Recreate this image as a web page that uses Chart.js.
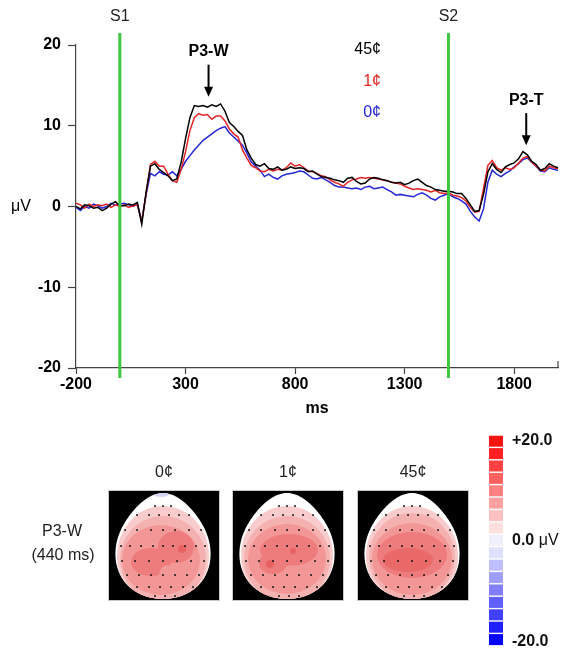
<!DOCTYPE html>
<html><head><meta charset="utf-8">
<script src="https://cdn.jsdelivr.net/npm/chart.js@4/dist/chart.umd.min.js"></script>
<style>html,body{margin:0;padding:0;background:#fff}#wrap{width:567px;height:652px;position:relative}</style>
</head><body><div id="wrap"><canvas id="c" width="567" height="652"></canvas></div>
<script>
// ---- data ----
const times = [
 -200,-180,-160,-140,-120,-100,-80,-60,-40,-20,
 0,20,40,60,80,100,120,140,160,180,
 200,220,240,260,280,300,320,340,360,380,
 400,420,440,460,480,500,520,540,560,580,
 600,620,640,660,680,700,720,740,760,780,
 800,820,840,860,880,900,920,940,960,980,
 1000,1020,1040,1060,1080,1100,1120,1140,1160,1180,
 1200,1220,1240,1260,1280,1300,1320,1340,1360,1380,
 1400,1420,1440,1460,1480,1500,1520,1540,1560,1580,
 1600,1620,1640,1660,1680,1700,1720,1740,1760,1780,
 1800,1820,1840,1860,1880,1900,1920,1940,1960,1980,2000];
const cents45 = [
 0.0,-0.3,0.2,0.1,-0.2,-0.1,-0.5,-0.2,0.3,0.6,
 0.1,0.1,0.3,0.2,0.5,-2.2,1.8,5.0,5.3,4.6,
 4.2,3.8,3.2,3.4,5.5,8.4,11.0,12.5,12.4,12.5,
 12.3,12.6,12.4,12.7,11.8,10.4,9.9,9.3,8.8,7.0,
 6.0,5.2,5.0,5.3,4.7,4.6,4.9,4.5,4.6,4.9,
 4.7,4.8,4.7,4.3,4.4,4.0,3.7,3.6,3.5,3.3,
 3.2,3.0,3.5,3.6,3.1,2.8,2.9,3.4,3.6,3.5,
 3.3,3.2,3.0,2.9,3.0,2.7,2.9,3.2,3.4,3.0,
 2.6,2.4,2.1,2.0,1.9,1.9,1.8,1.6,1.6,1.0,
 0.2,-0.6,-0.5,1.5,4.3,5.3,4.6,4.2,4.9,5.2,
 5.4,5.9,6.8,6.4,5.6,5.2,4.5,4.7,5.3,5.0,4.8];
const cents1 = [
 0.4,0.2,-0.2,0.3,0.0,0.2,0.1,0.3,-0.1,0.2,
 0.0,0.2,-0.1,0.1,0.2,-1.9,1.6,5.2,5.6,5.0,
 5.0,4.0,3.2,3.0,4.6,6.8,9.4,11.0,11.5,11.3,
 11.4,10.8,11.2,11.2,10.6,9.6,9.0,8.6,7.0,6.0,
 5.1,4.8,4.4,4.3,4.6,4.4,4.6,4.5,4.8,5.4,
 5.0,5.2,4.8,4.4,4.3,4.1,3.8,3.7,3.3,3.0,
 2.8,2.5,3.0,3.3,3.4,3.6,3.5,3.6,3.5,3.4,
 3.3,3.2,3.0,2.9,2.8,2.5,2.3,2.1,2.2,2.1,
 2.0,1.8,2.0,1.7,1.6,1.7,1.4,1.3,1.1,0.7,
 -0.1,-0.7,-0.6,2.2,5.1,5.7,4.8,4.5,4.8,4.6,
 4.8,5.4,6.0,6.2,5.5,5.0,4.5,4.4,5.0,4.8,4.7];
const cents0 = [
 -0.1,-0.5,0.0,-0.2,0.3,0.1,-0.2,0.0,0.4,0.2,
 0.3,0.4,0.2,0.0,0.3,-1.8,1.5,4.1,3.8,4.3,
 4.0,3.9,4.3,3.8,4.6,5.6,6.3,7.0,7.6,8.2,
 8.6,9.0,9.4,9.7,9.9,9.1,8.6,8.1,7.6,6.6,
 5.5,5.0,4.5,3.7,4.0,3.6,3.4,3.8,4.0,4.1,
 4.2,4.4,4.3,3.9,3.5,3.4,3.6,3.3,3.0,2.6,
 2.4,2.4,2.3,2.2,2.3,2.1,2.4,2.5,2.2,2.3,
 2.4,2.1,1.8,1.4,1.5,1.4,1.3,1.2,1.5,1.7,
 1.4,1.0,0.8,1.2,1.4,1.6,1.2,1.0,0.7,0.3,
 -0.6,-1.3,-1.8,-0.3,3.0,4.5,4.0,3.7,4.1,4.4,
 4.9,5.3,5.8,6.0,5.5,5.0,4.4,4.3,4.8,4.6,4.5];
const seriesNames = ['45¢','1¢','0¢'];
const seriesColors = ['#000000','#e42424','#2626d6'];
const xTicks = [-200,300,800,1300,1800];
const yTicks = [-20,-10,0,10,20];
const stimuli = [{label:'S1', t:0},{label:'S2', t:1500}];
const peaks = [{label:'P3-W', t:405, v:13.6},{label:'P3-T', t:1855, v:7.6}];
const mapTitles = ['0¢','1¢','45¢'];
const colorbarLevels = [20,17.5,15,12.5,10,7.5,5,2.5,0,-2.5,-5,-7.5,-10,-12.5,-15,-17.5,-20];

const FONT = "'Liberation Sans', Arial, Helvetica, sans-serif";
const seriesValues = [cents45, cents1, cents0];

function levelColor(v){
  if (v > 0.01){ const f = v/20; const c = Math.round(255 - 235*Math.min(1,f*1.08)); return `rgb(255,${c},${c})`; }
  if (v < -0.01){ const f = -v/20; const c = Math.round(255 - 255*Math.min(1,f*1.0)); return `rgb(${c},${c},255)`; }
  return 'rgb(240,240,252)';
}

// head map blobs: [dx, dy, rx, ry, colour] relative to head centre
const headLayers = [
  [ // 0¢
    [0,10,46,50,'#f8cccc'],[0,13,43,43,'#f5b0b0'],[-2,14,39,35,'#f29696'],
    [13,1,18,16,'#ee7c7c'],[-12,16,20,14,'#ee7c7c'],[4,29,8,10,'#f29696'],[19,3,4,4,'#e86262']
  ],
  [ // 1¢
    [0,10,46,50,'#f8cccc'],[0,13,43,43,'#f5b0b0'],[0,13,39,35,'#f29696'],
    [2,4,29,16,'#ee7c7c'],[-14,17,14,11,'#ee7c7c'],[4,28,7,9,'#f29696'],[6,5,3,3,'#e86262'],[-17,18,4,4,'#e86262']
  ],
  [ // 45¢
    [0,10,46,50,'#f8cccc'],[0,11,43,44,'#f5b0b0'],[0,13,40,36,'#f29696'],
    [0,9,35,23,'#ee7c7c'],[-4,14,25,12,'#e96868']
  ]
];
const electrodes = [
  [-40,[-8,0,8]],[-31,[-26,-14,-4,6,16,26]],[-16,[-38,-26,-12,0,12,26,38]],
  [0,[-42,-33,-22,-10,0,10,22,33,42]],[15,[-41,-28,-14,0,14,28,41]],
  [29,[-36,-24,-12,0,12,24,36]],[41,[-26,-14,-3,8,20,30]],[50,[-8,2,12]]
];

const overlay = {
  id:'overlay',
  afterDatasetsDraw(chart){
    const {ctx, chartArea:ca, scales:{x,y}} = chart;
    ctx.save();
    stimuli.forEach(s=>{
      const px = x.getPixelForValue(s.t);
      ctx.strokeStyle = '#3fc63f'; ctx.lineWidth = 3;
      ctx.beginPath(); ctx.moveTo(px, ca.top-12); ctx.lineTo(px, ca.bottom+10); ctx.stroke();
      ctx.fillStyle = '#222'; ctx.font = `16px ${FONT}`; ctx.textAlign='center'; ctx.textBaseline='middle';
      ctx.fillText(s.label, px, ca.top-28);
    });
    peaks.forEach(p=>{
      const px = x.getPixelForValue(p.t), tip = y.getPixelForValue(p.v);
      ctx.strokeStyle='#000'; ctx.fillStyle='#000'; ctx.lineWidth=2;
      ctx.beginPath(); ctx.moveTo(px, tip-32); ctx.lineTo(px, tip-8); ctx.stroke();
      ctx.beginPath(); ctx.moveTo(px-4.5, tip-10); ctx.lineTo(px+4.5, tip-10); ctx.lineTo(px, tip); ctx.closePath(); ctx.fill();
      ctx.font = `bold 16px ${FONT}`; ctx.textAlign='center'; ctx.textBaseline='middle';
      ctx.fillText(p.label, px, tip-45);
    });
    ctx.font = `16px ${FONT}`; ctx.textAlign='right'; ctx.textBaseline='middle';
    seriesNames.forEach((n,i)=>{ ctx.fillStyle = seriesColors[i]; ctx.fillText(n, 381, ca.top+5+i*31.5); });
    ctx.fillStyle='#000'; ctx.textAlign='center'; ctx.font = `16px ${FONT}`;
    ctx.fillText('μV', 21, y.getPixelForValue(0));
    ctx.strokeStyle='#444'; ctx.lineWidth=1.2;
    ctx.beginPath(); ctx.moveTo(ca.right, ca.bottom); ctx.lineTo(ca.right, ca.bottom-7); ctx.stroke();
    ctx.restore();
  },
  afterDraw(chart){
    const ctx = chart.ctx;
    ctx.save();
    ctx.fillStyle='#222'; ctx.font = `16px ${FONT}`; ctx.textAlign='center'; ctx.textBaseline='middle';
    ctx.fillText('P3-W', 62, 532);
    ctx.fillText('(440 ms)', 63, 556);
    const boxX = [108, 232, 357], boxY = 490, bw = 112, bh = 111;
    mapTitles.forEach((t,i)=>{
      const bx = boxX[i];
      ctx.fillStyle='#222'; ctx.font = `16px ${FONT}`; ctx.textAlign='center'; ctx.textBaseline='middle';
      ctx.fillText(t, bx+bw/2, 473);
      ctx.fillStyle='#000'; ctx.fillRect(bx, boxY, bw, bh);
      ctx.strokeStyle='#c8c8c8'; ctx.lineWidth=1; ctx.strokeRect(bx+0.5, boxY+0.5, bw-1, bh-1);
      const cx = bx+bw/2-1, cy = boxY+56, a=47, b=53;
      ctx.save();
      ctx.beginPath();
      for(let k=0;k<=120;k++){
        const th = k/120*Math.PI*2;
        const s = Math.sin(th);
        const px = cx + a*Math.cos(th)*(1+0.16*s) * (s<0 ? (1 - 0.12*s*s) : 1);
        const py = cy + b*s;
        k===0 ? ctx.moveTo(px,py) : ctx.lineTo(px,py);
      }
      ctx.closePath();
      ctx.fillStyle='#ffffff'; ctx.fill();
      ctx.clip();
      headLayers[i].forEach(l=>{
        ctx.fillStyle = l[4];
        ctx.beginPath(); ctx.ellipse(cx+l[0], cy+l[1], l[2], l[3], 0, 0, Math.PI*2); ctx.fill();
      });
      if(i===0){ ctx.fillStyle='#d4d4f6'; ctx.beginPath(); ctx.ellipse(cx-2, boxY+3, 9, 4, 0, 0, Math.PI*2); ctx.fill(); }
      ctx.fillStyle='#111';
      electrodes.forEach(r=>{ r[1].forEach(dx=>{ ctx.fillRect(cx+dx-0.8, cy+r[0]-0.8, 1.7, 1.7); }); });
      ctx.restore();
    });
    colorbarLevels.forEach((v,i)=>{
      ctx.fillStyle = levelColor(v);
      ctx.fillRect(489, 435.7 + i*12.4, 14, 11);
    });
    ctx.fillStyle='#111'; ctx.textAlign='left'; ctx.textBaseline='middle';
    ctx.font = `bold 16px ${FONT}`;
    ctx.fillText('+20.0', 512, 441);
    ctx.fillText('0.0', 512, 541);
    const w0 = ctx.measureText('0.0 ').width;
    ctx.font = `16px ${FONT}`; ctx.fillText('μV', 512+w0, 541);
    ctx.font = `bold 16px ${FONT}`;
    ctx.fillText('-20.0', 512, 642);
    ctx.restore();
  }
};

const datasets = seriesNames.map((n,i)=>({
  label:n, data: times.map((t,k)=>({x:t, y:seriesValues[i][k]})),
  borderColor: seriesColors[i], borderWidth:1.5, pointRadius:0, tension:0, fill:false, order:i
}));

new Chart(document.getElementById('c'), {
  type:'line',
  data:{datasets},
  options:{
    responsive:false, animation:false, devicePixelRatio:1,
    layout:{padding:{left:0, top:45, right:9, bottom:234}},
    plugins:{legend:{display:false}, tooltip:{enabled:false}},
    scales:{
      x:{type:'linear', min:-200, max:2000,
        afterBuildTicks: s=>{ s.ticks = xTicks.map(v=>({value:v})); },
        afterFit: s=>{ s.height = 50; },
        grid:{drawOnChartArea:false, tickLength:6, color:'#444', tickWidth:1.2},
        border:{color:'#444', width:1.2},
        ticks:{font:{family:FONT, size:16, weight:'bold'}, color:'#000', padding:1, maxRotation:0, autoSkip:false,
               callback: v => String(v)},
        title:{display:true, text:'ms', font:{family:FONT, size:16, weight:'bold'}, color:'#000', padding:{top:0,bottom:0}}
      },
      y:{min:-20, max:20,
        afterBuildTicks: s=>{ s.ticks = yTicks.map(v=>({value:v})); },
        afterFit: s=>{ s.width = 76; },
        grid:{drawOnChartArea:false, tickLength:8, color:'#444', tickWidth:1.2},
        border:{color:'#444', width:1.2},
        ticks:{font:{family:FONT, size:16, weight:'bold'}, color:'#000', padding:7, callback: v => String(v)}
      }
    }
  },
  plugins:[overlay]
});
</script></body></html>
